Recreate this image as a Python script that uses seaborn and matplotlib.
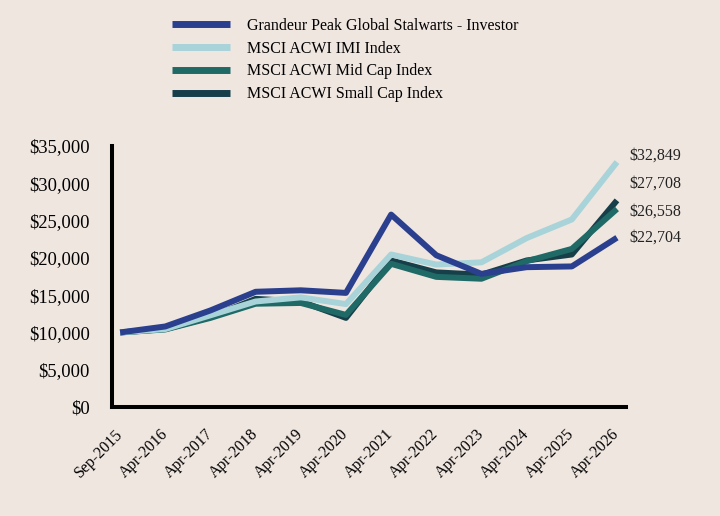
import matplotlib.pyplot as plt
import pandas as pd
import seaborn as sns

# 横轴日期
dates = ["Sep-2015", "Apr-2016", "Apr-2017", "Apr-2018", "Apr-2019", "Apr-2020",
         "Apr-2021", "Apr-2022", "Apr-2023", "Apr-2024", "Apr-2025", "Apr-2026"]

# 各系列数值
investor = [10000, 10800, 12950, 15450, 15650, 15300, 25800, 20350, 17850, 18750, 18850, 22704]
imi = [10000, 10450, 12300, 14150, 14700, 13800, 20450, 19100, 19400, 22650, 25150, 32849]
mid_cap = [10000, 10400, 11950, 13850, 13950, 12350, 19200, 17450, 17200, 19550, 21200, 26558]
small_cap = [10000, 10450, 12050, 14500, 14150, 11950, 19650, 18050, 17750, 19650, 20450, 27708]

series_names = ["Grandeur Peak Global Stalwarts - Investor", "MSCI ACWI IMI Index",
                "MSCI ACWI Mid Cap Index", "MSCI ACWI Small Cap Index"]
colors = ["#2b3f8f", "#a8d3d9", "#1f6a67", "#173f49"]

# 末端标签（标签的纵向位置，单位为美元）
end_labels = ["$32,849", "$27,708", "$26,558", "$22,704"]
end_label_y = [33650, 29900, 26250, 22750]

y_ticks = [0, 5000, 10000, 15000, 20000, 25000, 30000, 35000]

bg = "#efe6e0"

# 整理为长表
frames = []
for name, vals in zip(series_names, [investor, imi, mid_cap, small_cap]):
    frames.append(pd.DataFrame({"x": range(len(dates)), "value": vals, "series": name}))
df = pd.concat(frames, ignore_index=True)

sns.set_theme(style="white")
plt.rcParams["font.family"] = ["Liberation Serif", "DejaVu Serif"]
plt.rcParams["text.color"] = "black"
plt.rcParams["xtick.color"] = "black"
plt.rcParams["ytick.color"] = "black"

fig = plt.figure(figsize=(7.2, 5.16), dpi=100, facecolor=bg)
ax = fig.add_axes([112 / 720, 1 - 407 / 516, 514 / 720, 261 / 516])
ax.set_facecolor(bg)

# 先画指数，最后画基金，使基金线在最上层
draw_order = [series_names[3], series_names[2], series_names[1], series_names[0]]
pal = dict(zip(series_names, colors))
for name in draw_order:
    sns.lineplot(data=df[df["series"] == name], x="x", y="value", color=pal[name],
                 linewidth=4.3, ax=ax, legend=False, solid_capstyle="butt")

ax.set_xlim(-0.18, 11.2)
ax.set_ylim(0, 35000)
ax.set_xticks(range(len(dates)))
ax.set_xticklabels(dates, rotation=45, ha="right", va="center", rotation_mode="anchor", fontsize=11.5)
ax.set_yticks(y_ticks)
ax.set_yticklabels([f"${v:,}" for v in y_ticks], fontsize=13.3)
ax.tick_params(axis="y", length=0, pad=16)
ax.tick_params(axis="x", length=0, pad=18)
ax.set_xlabel("")
ax.set_ylabel("")

for s in ["top", "right"]:
    ax.spines[s].set_visible(False)
for s in ["left", "bottom"]:
    ax.spines[s].set_color("black")
    ax.spines[s].set_linewidth(2.9)

# 末端数值标签
for txt, yv in zip(end_labels, end_label_y):
    ax.text(11.28, yv, txt, fontsize=11.5, va="center", ha="left", color="#222222", clip_on=False)

# 图例
handles = [plt.Line2D([], [], color=c, linewidth=5, solid_capstyle="butt") for c in colors]
fig.legend(handles, series_names, loc="upper left", bbox_to_anchor=(172 / 720, 1 - 18 / 516),
           frameon=False, fontsize=11.5, handlelength=3.6, handletextpad=1.1,
           labelspacing=0.42, borderpad=0, borderaxespad=0)

fig.savefig("out.png", dpi=100, facecolor=bg)
